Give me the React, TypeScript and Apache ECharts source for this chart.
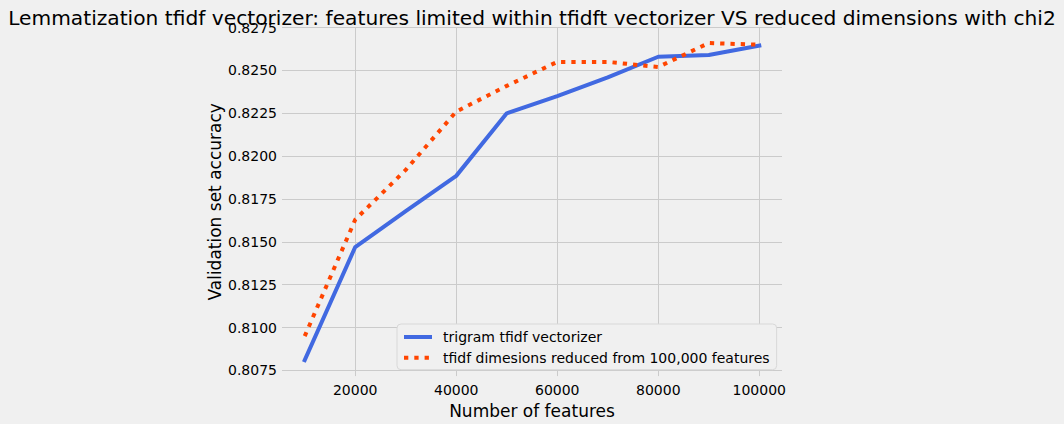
import React, { useEffect, useRef } from "react";
import * as echarts from "echarts";

const features = [10000, 20000, 30000, 40000, 50000, 60000, 70000, 80000, 90000, 100000];
const trigramAcc = [0.8081, 0.8147, 0.8168, 0.81885, 0.8225, 0.8235, 0.8246, 0.8258, 0.8259, 0.82645];
const chi2Acc = [0.8095, 0.8163, 0.8192, 0.8226, 0.8241, 0.8255, 0.8255, 0.8252, 0.8266, 0.8265];
const xTicks = [20000, 40000, 60000, 80000, 100000];
const yTicks = [0.8075, 0.81, 0.8125, 0.815, 0.8175, 0.82, 0.8225, 0.825, 0.8275];

const FONT = "DejaVu Sans";
const BLUE = "#4169e1";
const ORANGE = "#ff4500";
const DOTS = [4.3, 6];

export default function App() {
  const ref = useRef<HTMLDivElement>(null);
  useEffect(() => {
    if (!ref.current) return;
    const chart = echarts.init(ref.current, undefined, { renderer: "svg" });
    chart.setOption({
      animation: false,
      backgroundColor: "#f0f0f0",
      title: {
        text: "Lemmatization tfidf vectorizer: features limited within tfidft vectorizer VS reduced dimensions with chi2",
        left: "center",
        top: 3,
        textStyle: { fontFamily: FONT, fontSize: 20.2, fontWeight: "normal", color: "#000" },
      },
      grid: { left: 282, right: 282, top: 27.6, height: 349.4, containLabel: false },
      legend: {
        orient: "vertical",
        left: 397,
        top: 324,
        padding: [6, 7, 5, 5],
        itemWidth: 28,
        itemHeight: 14,
        itemGap: 6.7,
        backgroundColor: "#f0f0f0",
        borderColor: "#d8d8d8",
        borderWidth: 1,
        borderRadius: 4,
        textStyle: { fontFamily: FONT, fontSize: 14, color: "#000", padding: [0, 0, 0, 6] },
        data: [
          {
            name: "trigram tfidf vectorizer",
            itemStyle: { opacity: 0 },
            lineStyle: { width: 4, color: BLUE, type: "solid", cap: "butt" },
          },
          {
            name: "tfidf dimesions reduced from 100,000 features",
            itemStyle: { opacity: 0 },
            lineStyle: { width: 4, color: ORANGE, type: DOTS, cap: "butt" },
          },
        ],
      },
      xAxis: {
        type: "value",
        min: 5500,
        max: 104500,
        name: "Number of features",
        nameLocation: "middle",
        nameGap: 21,
        nameTextStyle: { fontFamily: FONT, fontSize: 17, color: "#000" },
        axisLine: { show: false },
        axisTick: { show: false, customValues: xTicks },
        axisLabel: {
          customValues: xTicks,
          fontFamily: FONT,
          fontSize: 14,
          color: "#000",
          margin: 7,
          formatter: (v: number) => String(v),
        },
        splitLine: { show: true, lineStyle: { color: "#cbcbcb", width: 1 } },
      },
      yAxis: {
        type: "value",
        min: 0.80717,
        max: 0.8275,
        name: "Validation set accuracy",
        nameLocation: "middle",
        nameGap: 59,
        nameTextStyle: { fontFamily: FONT, fontSize: 17, color: "#000" },
        axisLine: { show: false },
        axisTick: { show: false, customValues: yTicks },
        axisLabel: {
          customValues: yTicks,
          fontFamily: FONT,
          fontSize: 14,
          color: "#000",
          margin: 5,
          formatter: (v: number) => v.toFixed(4),
        },
        splitLine: { show: true, lineStyle: { color: "#cbcbcb", width: 1 } },
      },
      series: [
        {
          name: "trigram tfidf vectorizer",
          type: "line",
          data: features.map((f, i) => [f, trigramAcc[i]]),
          symbol: "none",
          lineStyle: { color: BLUE, width: 4, cap: "square", join: "round" },
          itemStyle: { color: BLUE },
          z: 3,
        },
        {
          name: "tfidf dimesions reduced from 100,000 features",
          type: "line",
          data: features.map((f, i) => [f, chi2Acc[i]]),
          symbol: "none",
          lineStyle: { color: ORANGE, width: 4, type: DOTS, cap: "butt", join: "round" },
          itemStyle: { color: ORANGE },
          z: 4,
        },
      ],
    });
    return () => chart.dispose();
  }, []);
  return <div ref={ref} style={{ position: "fixed", left: 0, top: 0, width: 1064, height: 424 }} />;
}
